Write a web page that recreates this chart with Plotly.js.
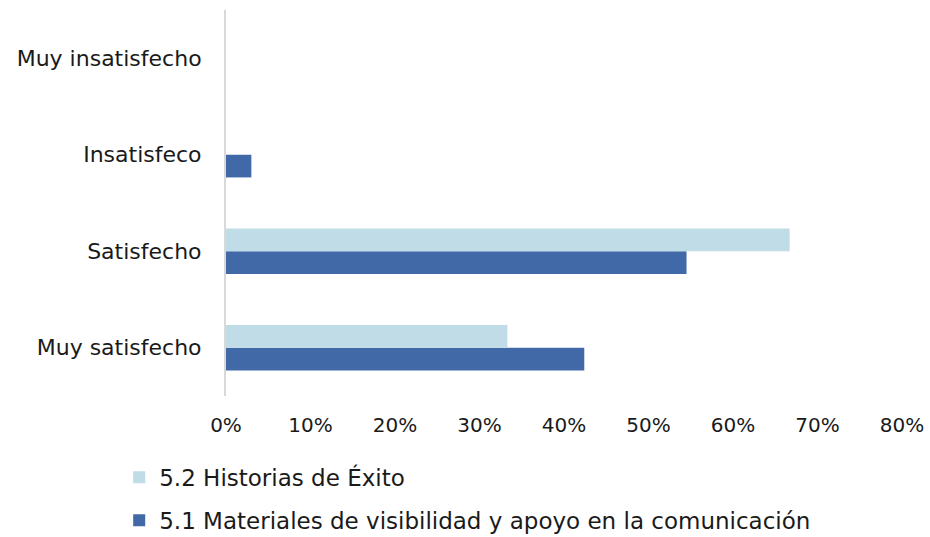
<!DOCTYPE html>
<html>
<head>
<meta charset="utf-8">
<script src="https://cdn.plot.ly/plotly-3.0.1.min.js"></script>
<style>html,body{margin:0;padding:0;background:#fff;}#chart{width:930px;height:537px;}</style>
</head>
<body>
<div id="chart"></div>
<script>
var categories = ["Muy satisfecho", "Satisfecho", "Insatisfeco", "Muy insatisfecho"];
var seriesNames = ["5.1 Materiales de visibilidad y apoyo en la comunicación", "5.2 Historias de Éxito"];
var materiales = [0.424, 0.545, 0.030, 0];
var historias = [0.333, 0.667, 0, 0];
var tickVals = [0, 0.1, 0.2, 0.3, 0.4, 0.5, 0.6, 0.7, 0.8];
var tickText = ["0%", "10%", "20%", "30%", "40%", "50%", "60%", "70%", "80%"];

var fontFam = "'DejaVu Sans', sans-serif";
var data = [
  {type: "bar", orientation: "h", name: seriesNames[0], y: categories, x: materiales, legendgroup: "a",
   legendrank: 2, marker: {color: "#4169A7"}, hoverinfo: "x+y"},
  {type: "bar", orientation: "h", name: seriesNames[1], y: categories, x: historias, legendgroup: "b",
   legendrank: 1, marker: {color: "#BFDCE7"}, hoverinfo: "x+y"}
];
var layout = {
  width: 930, height: 537,
  margin: {l: 226, r: 28, t: 10, b: 141, autoexpand: false},
  paper_bgcolor: "#fff", plot_bgcolor: "#fff",
  barmode: "group", bargap: 0.53, bargroupgap: 0,
  font: {family: fontFam, size: 20, color: "#1a1a1a"},
  xaxis: {range: [0, 0.8], tickvals: tickVals, ticktext: tickText, showgrid: false,
          zeroline: false, showline: false, ticks: "", fixedrange: true, ticklabelstandoff: 15,
          tickfont: {size: 20, color: "#1a1a1a"}},
  yaxis: {categoryorder: "array", categoryarray: categories, showgrid: false, zeroline: false,
          showline: true, linecolor: "#D9D9D9", linewidth: 2, ticks: "", ticklabelstandoff: 18,
          tickfont: {size: 22, color: "#1a1a1a"}},
  showlegend: true,
  legend: {orientation: "v", traceorder: "grouped", x: -0.158, xanchor: "left", y: -0.155, yanchor: "top",
           font: {size: 23, color: "#1a1a1a"}, itemwidth: 30, tracegroupgap: 10}
};
Plotly.newPlot("chart", data, layout, {displayModeBar: false});
</script>
</body>
</html>
